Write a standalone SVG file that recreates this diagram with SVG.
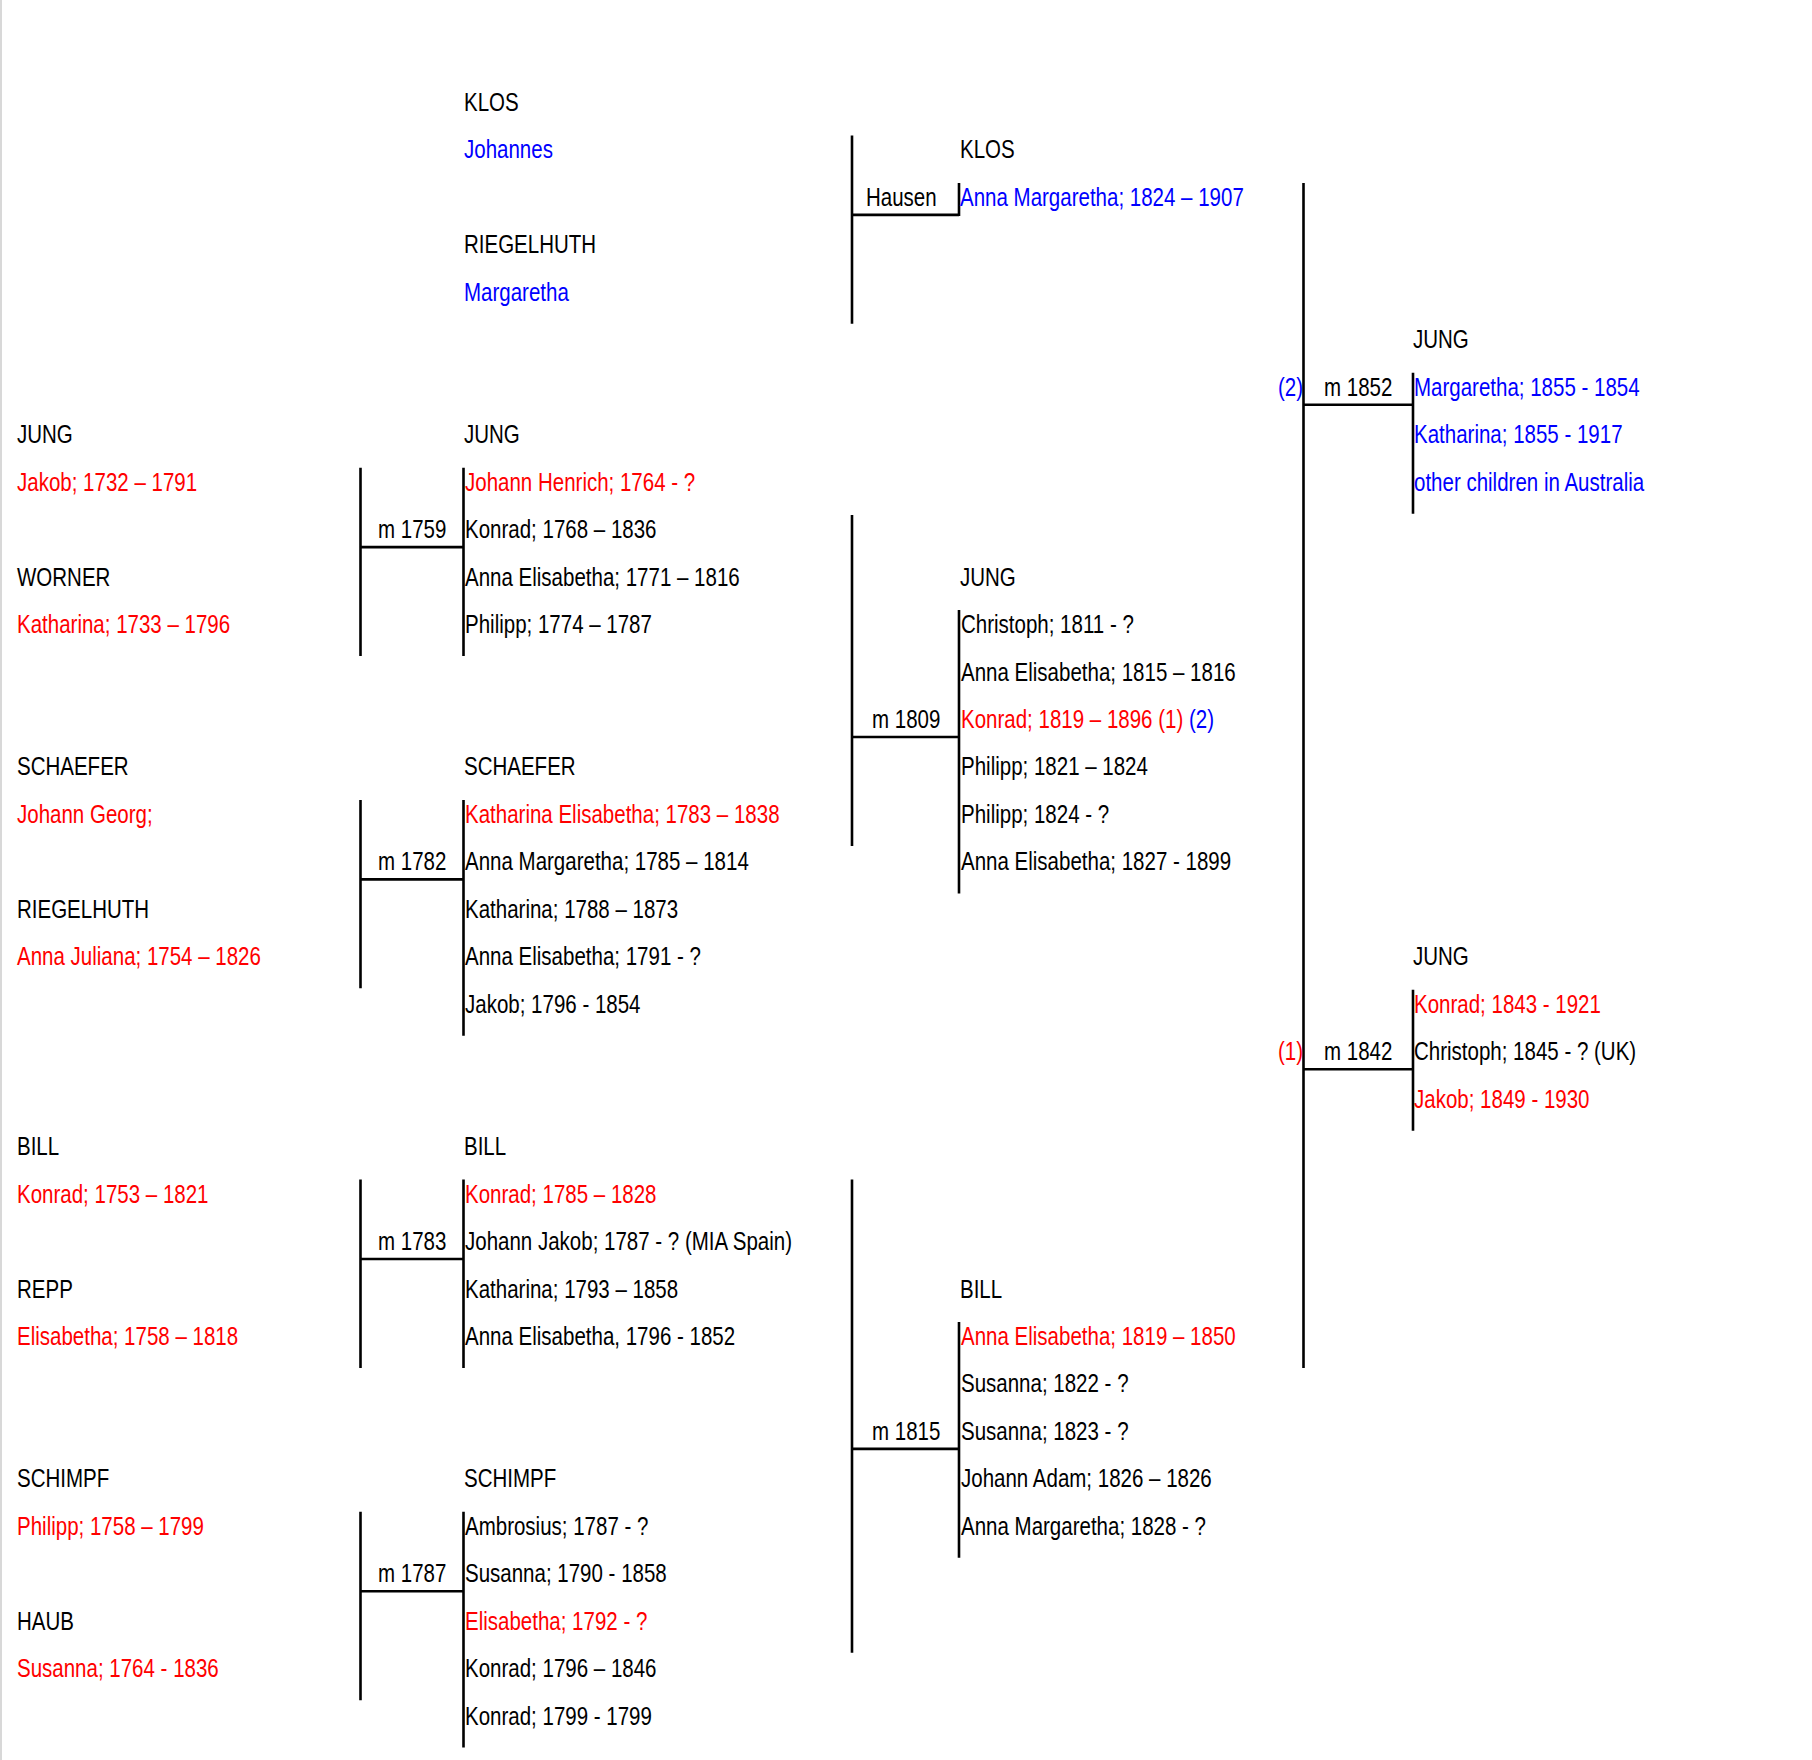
<svg xmlns="http://www.w3.org/2000/svg" width="1812" height="1760" viewBox="0 0 1812 1760">
<style>
text{font-family:"Liberation Sans",Arial,sans-serif;font-size:25px;fill:#000}
.r{fill:#ff0000}
.b{fill:#0000ff}
.ln{stroke:#000;stroke-width:2.6;fill:none}
</style>
<rect x="0" y="0" width="1812" height="1760" fill="#fff"/>
<line x1="1" y1="0" x2="1" y2="1760" stroke="#d8d8d8" stroke-width="2"/>
<g id="connectors">
<path class="ln" d="M360.5 467.7V656.1M463.5 467.7V656.1M360.5 547.1H463.5"/>
<path class="ln" d="M360.5 799.9V988.3M463.5 799.9V1035.7M360.5 879.4H463.5"/>
<path class="ln" d="M360.5 1179.6V1368M463.5 1179.6V1368M360.5 1259H463.5"/>
<path class="ln" d="M360.5 1511.8V1700.2M463.5 1511.8V1747.6M360.5 1591.3H463.5"/>
<path class="ln" d="M852 135.5V323.8M959 182.9V215.9M852 214.9H959"/>
<path class="ln" d="M852 515.1V845.9M959 610.1V893.4M852 737H959"/>
<path class="ln" d="M852 1179.6V1652.7M959 1322V1557.8M852 1448.9H959"/>
<path class="ln" d="M1303.5 182.9V1368M1413 372.8V513.7M1303.5 404.8H1413"/>
<path class="ln" d="M1413 989.7V1130.7M1303.5 1069.2H1413"/>
</g>
<g id="klos-riegelhuth-parents">
<text transform="translate(464 111) scale(.82 1)">KLOS</text>
<text transform="translate(464 158) scale(.82 1)" class="b">Johannes</text>
<text transform="translate(464 253) scale(.82 1)">RIEGELHUTH</text>
<text transform="translate(464 301) scale(.82 1)" class="b">Margaretha</text>
</g>
<g id="m-hausen">
<text transform="translate(866 206) scale(.82 1)">Hausen</text>
</g>
<g id="klos-anna-margaretha">
<text transform="translate(960 158) scale(.82 1)">KLOS</text>
<text transform="translate(960 206) scale(.82 1)" class="b">Anna Margaretha; 1824 – 1907</text>
</g>
<g id="jung-worner-parents">
<text transform="translate(17 443) scale(.82 1)">JUNG</text>
<text transform="translate(17 491) scale(.82 1)" class="r">Jakob; 1732 – 1791</text>
<text transform="translate(17 586) scale(.82 1)">WORNER</text>
<text transform="translate(17 633) scale(.82 1)" class="r">Katharina; 1733 – 1796</text>
</g>
<g id="m-1759"><text transform="translate(378 538) scale(.82 1)">m 1759</text></g>
<g id="jung-children-1759">
<text transform="translate(464 443) scale(.82 1)">JUNG</text>
<text transform="translate(465 491) scale(.82 1)" class="r">Johann Henrich; 1764 - ?</text>
<text transform="translate(465 538) scale(.82 1)">Konrad; 1768 – 1836</text>
<text transform="translate(465 586) scale(.82 1)">Anna Elisabetha; 1771 – 1816</text>
<text transform="translate(465 633) scale(.82 1)">Philipp; 1774 – 1787</text>
</g>
<g id="schaefer-riegelhuth-parents">
<text transform="translate(17 775) scale(.82 1)">SCHAEFER</text>
<text transform="translate(17 823) scale(.82 1)" class="r">Johann Georg;</text>
<text transform="translate(17 918) scale(.82 1)">RIEGELHUTH</text>
<text transform="translate(17 965) scale(.82 1)" class="r">Anna Juliana; 1754 – 1826</text>
</g>
<g id="m-1782"><text transform="translate(378 870) scale(.82 1)">m 1782</text></g>
<g id="schaefer-children-1782">
<text transform="translate(464 775) scale(.82 1)">SCHAEFER</text>
<text transform="translate(465 823) scale(.82 1)" class="r">Katharina Elisabetha; 1783 – 1838</text>
<text transform="translate(465 870) scale(.82 1)">Anna Margaretha; 1785 – 1814</text>
<text transform="translate(465 918) scale(.82 1)">Katharina; 1788 – 1873</text>
<text transform="translate(465 965) scale(.82 1)">Anna Elisabetha; 1791 - ?</text>
<text transform="translate(465 1013) scale(.82 1)">Jakob; 1796 - 1854</text>
</g>
<g id="bill-repp-parents">
<text transform="translate(17 1155) scale(.82 1)">BILL</text>
<text transform="translate(17 1203) scale(.82 1)" class="r">Konrad; 1753 – 1821</text>
<text transform="translate(17 1298) scale(.82 1)">REPP</text>
<text transform="translate(17 1345) scale(.82 1)" class="r">Elisabetha; 1758 – 1818</text>
</g>
<g id="m-1783"><text transform="translate(378 1250) scale(.82 1)">m 1783</text></g>
<g id="bill-children-1783">
<text transform="translate(464 1155) scale(.82 1)">BILL</text>
<text transform="translate(465 1203) scale(.82 1)" class="r">Konrad; 1785 – 1828</text>
<text transform="translate(465 1250) scale(.82 1)">Johann Jakob; 1787 - ? (MIA Spain)</text>
<text transform="translate(465 1298) scale(.82 1)">Katharina; 1793 – 1858</text>
<text transform="translate(465 1345) scale(.82 1)">Anna Elisabetha, 1796 - 1852</text>
</g>
<g id="schimpf-haub-parents">
<text transform="translate(17 1487) scale(.82 1)">SCHIMPF</text>
<text transform="translate(17 1535) scale(.82 1)" class="r">Philipp; 1758 – 1799</text>
<text transform="translate(17 1630) scale(.82 1)">HAUB</text>
<text transform="translate(17 1677) scale(.82 1)" class="r">Susanna; 1764 - 1836</text>
</g>
<g id="m-1787"><text transform="translate(378 1582) scale(.82 1)">m 1787</text></g>
<g id="schimpf-children-1787">
<text transform="translate(464 1487) scale(.82 1)">SCHIMPF</text>
<text transform="translate(465 1535) scale(.82 1)">Ambrosius; 1787 - ?</text>
<text transform="translate(465 1582) scale(.82 1)">Susanna; 1790 - 1858</text>
<text transform="translate(465 1630) scale(.82 1)" class="r">Elisabetha; 1792 - ?</text>
<text transform="translate(465 1677) scale(.82 1)">Konrad; 1796 – 1846</text>
<text transform="translate(465 1725) scale(.82 1)">Konrad; 1799 - 1799</text>
</g>
<g id="m-1809"><text transform="translate(872 728) scale(.82 1)">m 1809</text></g>
<g id="jung-children-1809">
<text transform="translate(960 586) scale(.82 1)">JUNG</text>
<text transform="translate(961 633) scale(.82 1)">Christoph; 1811 - ?</text>
<text transform="translate(961 681) scale(.82 1)">Anna Elisabetha; 1815 – 1816</text>
<text transform="translate(961 728) scale(.82 1)" class="r">Konrad; 1819 – 1896 (1) <tspan class="b">(2)</tspan></text>
<text transform="translate(961 775) scale(.82 1)">Philipp; 1821 – 1824</text>
<text transform="translate(961 823) scale(.82 1)">Philipp; 1824 - ?</text>
<text transform="translate(961 870) scale(.82 1)">Anna Elisabetha; 1827 - 1899</text>
</g>
<g id="m-1815"><text transform="translate(872 1440) scale(.82 1)">m 1815</text></g>
<g id="bill-children-1815">
<text transform="translate(960 1298) scale(.82 1)">BILL</text>
<text transform="translate(961 1345) scale(.82 1)" class="r">Anna Elisabetha; 1819 – 1850</text>
<text transform="translate(961 1392) scale(.82 1)">Susanna; 1822 - ?</text>
<text transform="translate(961 1440) scale(.82 1)">Susanna; 1823 - ?</text>
<text transform="translate(961 1487) scale(.82 1)">Johann Adam; 1826 – 1826</text>
<text transform="translate(961 1535) scale(.82 1)">Anna Margaretha; 1828 - ?</text>
</g>
<g id="m-1852">
<text transform="translate(1278 396) scale(.82 1)" class="b">(2)</text>
<text transform="translate(1324 396) scale(.82 1)">m 1852</text>
</g>
<g id="jung-children-1852">
<text transform="translate(1413 348) scale(.82 1)">JUNG</text>
<text transform="translate(1414 396) scale(.82 1)" class="b">Margaretha; 1855 - 1854</text>
<text transform="translate(1414 443) scale(.82 1)" class="b">Katharina; 1855 - 1917</text>
<text transform="translate(1414 491) scale(.82 1)" class="b">other children in Australia</text>
</g>
<g id="m-1842">
<text transform="translate(1278 1060) scale(.82 1)" class="r">(1)</text>
<text transform="translate(1324 1060) scale(.82 1)">m 1842</text>
</g>
<g id="jung-children-1842">
<text transform="translate(1413 965) scale(.82 1)">JUNG</text>
<text transform="translate(1414 1013) scale(.82 1)" class="r">Konrad; 1843 - 1921</text>
<text transform="translate(1414 1060) scale(.82 1)">Christoph; 1845 - ? (UK)</text>
<text transform="translate(1414 1108) scale(.82 1)" class="r">Jakob; 1849 - 1930</text>
</g>
</svg>
